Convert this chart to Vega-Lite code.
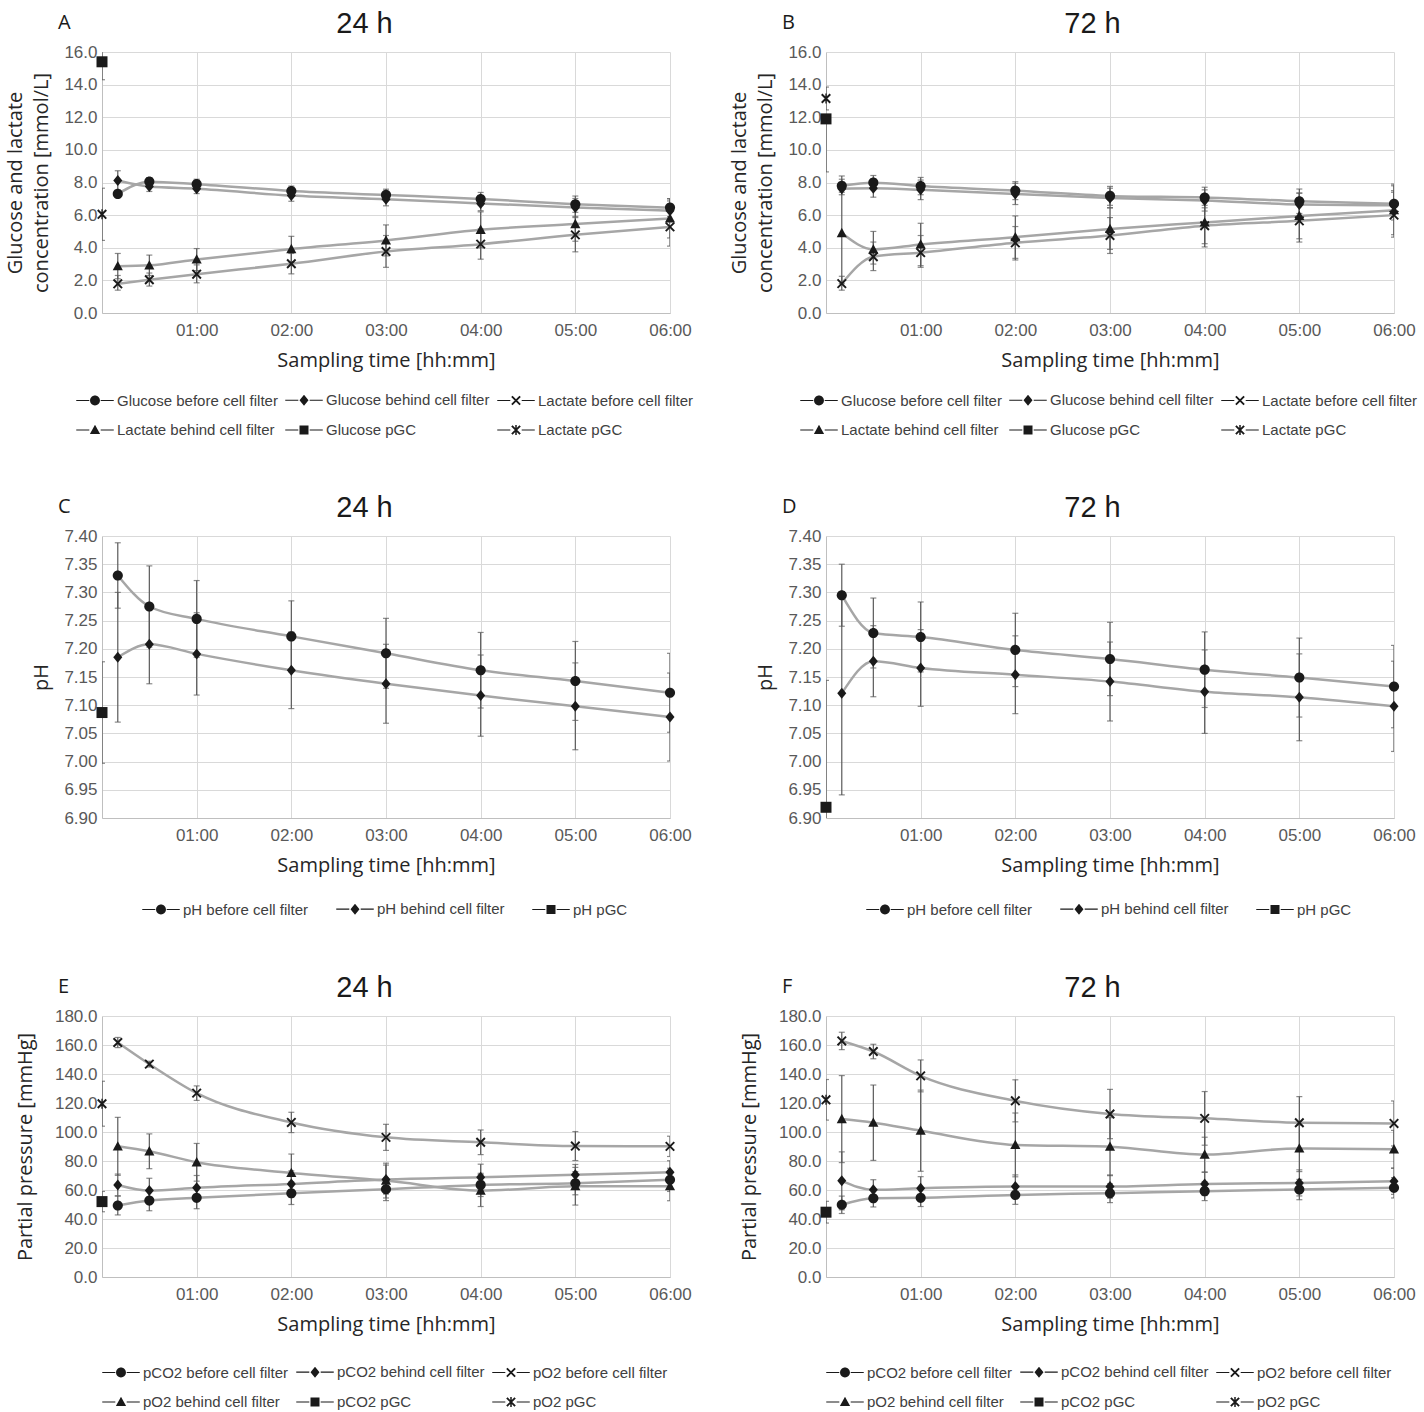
{
"$schema": "https://vega.github.io/schema/vega-lite/v6.json",
"background": "white",
"padding": {"left": 5, "top": 9, "right": 5, "bottom": 0},
"config": {
 "view": {"stroke": null},
 "font": "Liberation Sans",
 "axis": {"labelFont": "Liberation Sans Narrow, Liberation Sans, sans-serif", "labelFontSize": 17, "labelColor": "#595959", "titleFont": "Open Sans", "titleFontSize": 20, "titleFontWeight": "normal", "titleColor": "#262626", "ticks": false, "domainColor": "#bfbfbf", "gridColor": "#d9d9d9"},
 "legend": {"layout": {"bottom": {"anchor": "middle"}}}
},
"datasets": {
 "A": [
  {"s":"Glucose before cell filter","t":0.1667,"v":7.3,"lo":7.1,"hi":7.5},
  {"s":"Glucose before cell filter","t":0.5,"v":8.05,"lo":7.8,"hi":8.3},
  {"s":"Glucose before cell filter","t":1,"v":7.9,"lo":7.6,"hi":8.2},
  {"s":"Glucose before cell filter","t":2,"v":7.48,"lo":7.18,"hi":7.78},
  {"s":"Glucose before cell filter","t":3,"v":7.24,"lo":6.89,"hi":7.59},
  {"s":"Glucose before cell filter","t":4,"v":6.99,"lo":6.59,"hi":7.39},
  {"s":"Glucose before cell filter","t":5,"v":6.67,"lo":6.17,"hi":7.17},
  {"s":"Glucose before cell filter","t":6,"v":6.46,"lo":5.91,"hi":7.01},
  {"s":"Glucose behind cell filter","t":0.1667,"v":8.12,"lo":7.52,"hi":8.72},
  {"s":"Glucose behind cell filter","t":0.5,"v":7.75,"lo":7.45,"hi":8.05},
  {"s":"Glucose behind cell filter","t":1,"v":7.62,"lo":7.32,"hi":7.92},
  {"s":"Glucose behind cell filter","t":2,"v":7.2,"lo":6.85,"hi":7.55},
  {"s":"Glucose behind cell filter","t":3,"v":6.97,"lo":6.57,"hi":7.37},
  {"s":"Glucose behind cell filter","t":4,"v":6.72,"lo":6.27,"hi":7.17},
  {"s":"Glucose behind cell filter","t":5,"v":6.47,"lo":5.92,"hi":7.02},
  {"s":"Glucose behind cell filter","t":6,"v":6.27,"lo":5.67,"hi":6.87},
  {"s":"Lactate before cell filter","t":0.1667,"v":1.79,"lo":1.4,"hi":2.3},
  {"s":"Lactate before cell filter","t":0.5,"v":2.04,"lo":1.65,"hi":2.45},
  {"s":"Lactate before cell filter","t":1,"v":2.38,"lo":1.85,"hi":2.95},
  {"s":"Lactate before cell filter","t":2,"v":3.02,"lo":2.4,"hi":3.65},
  {"s":"Lactate before cell filter","t":3,"v":3.77,"lo":2.8,"hi":4.75},
  {"s":"Lactate before cell filter","t":4,"v":4.22,"lo":3.3,"hi":5.15},
  {"s":"Lactate before cell filter","t":5,"v":4.79,"lo":3.75,"hi":5.85},
  {"s":"Lactate before cell filter","t":6,"v":5.28,"lo":4.1,"hi":6.45},
  {"s":"Lactate behind cell filter","t":0.1667,"v":2.87,"lo":2.1,"hi":3.65},
  {"s":"Lactate behind cell filter","t":0.5,"v":2.92,"lo":2.3,"hi":3.55},
  {"s":"Lactate behind cell filter","t":1,"v":3.28,"lo":2.6,"hi":3.95},
  {"s":"Lactate behind cell filter","t":2,"v":3.92,"lo":3.15,"hi":4.7},
  {"s":"Lactate behind cell filter","t":3,"v":4.45,"lo":3.5,"hi":5.4},
  {"s":"Lactate behind cell filter","t":4,"v":5.1,"lo":4.0,"hi":6.2},
  {"s":"Lactate behind cell filter","t":5,"v":5.45,"lo":4.4,"hi":6.5},
  {"s":"Lactate behind cell filter","t":6,"v":5.8,"lo":4.6,"hi":7.0},
  {"s":"Glucose pGC","t":0,"v":15.4,"lo":14.3,"hi":16.5},
  {"s":"Lactate pGC","t":0,"v":6.05,"lo":4.45,"hi":7.65}
 ],
 "B": [
  {"s":"Glucose before cell filter","t":0.1667,"v":7.8,"lo":7.4,"hi":8.2},
  {"s":"Glucose before cell filter","t":0.5,"v":7.99,"lo":7.55,"hi":8.43},
  {"s":"Glucose before cell filter","t":1,"v":7.78,"lo":7.25,"hi":8.31},
  {"s":"Glucose before cell filter","t":2,"v":7.5,"lo":6.95,"hi":8.05},
  {"s":"Glucose before cell filter","t":3,"v":7.18,"lo":6.6,"hi":7.76},
  {"s":"Glucose before cell filter","t":4,"v":7.08,"lo":6.45,"hi":7.71},
  {"s":"Glucose before cell filter","t":5,"v":6.85,"lo":6.1,"hi":7.6},
  {"s":"Glucose before cell filter","t":6,"v":6.7,"lo":5.9,"hi":7.5},
  {"s":"Glucose behind cell filter","t":0.1667,"v":7.62,"lo":7.25,"hi":8.4},
  {"s":"Glucose behind cell filter","t":0.5,"v":7.65,"lo":7.1,"hi":8.2},
  {"s":"Glucose behind cell filter","t":1,"v":7.55,"lo":6.95,"hi":8.15},
  {"s":"Glucose behind cell filter","t":2,"v":7.3,"lo":6.65,"hi":7.95},
  {"s":"Glucose behind cell filter","t":3,"v":7.05,"lo":6.45,"hi":7.65},
  {"s":"Glucose behind cell filter","t":4,"v":6.9,"lo":6.25,"hi":7.55},
  {"s":"Glucose behind cell filter","t":5,"v":6.65,"lo":5.95,"hi":7.35},
  {"s":"Glucose behind cell filter","t":6,"v":6.6,"lo":5.7,"hi":7.9},
  {"s":"Lactate before cell filter","t":0.1667,"v":1.8,"lo":1.4,"hi":2.25},
  {"s":"Lactate before cell filter","t":0.5,"v":3.45,"lo":2.6,"hi":4.35},
  {"s":"Lactate before cell filter","t":1,"v":3.7,"lo":2.8,"hi":4.75},
  {"s":"Lactate before cell filter","t":2,"v":4.3,"lo":3.25,"hi":5.3},
  {"s":"Lactate before cell filter","t":3,"v":4.75,"lo":3.65,"hi":5.85},
  {"s":"Lactate before cell filter","t":4,"v":5.35,"lo":4.05,"hi":6.6},
  {"s":"Lactate before cell filter","t":5,"v":5.65,"lo":4.35,"hi":6.95},
  {"s":"Lactate before cell filter","t":6,"v":6.0,"lo":4.65,"hi":7.4},
  {"s":"Lactate behind cell filter","t":0.1667,"v":4.9,"lo":1.8,"hi":8.0},
  {"s":"Lactate behind cell filter","t":0.5,"v":3.9,"lo":3.0,"hi":5.0},
  {"s":"Lactate behind cell filter","t":1,"v":4.2,"lo":2.9,"hi":5.5},
  {"s":"Lactate behind cell filter","t":2,"v":4.65,"lo":3.35,"hi":5.95},
  {"s":"Lactate behind cell filter","t":3,"v":5.15,"lo":3.9,"hi":6.45},
  {"s":"Lactate behind cell filter","t":4,"v":5.55,"lo":4.25,"hi":6.85},
  {"s":"Lactate behind cell filter","t":5,"v":5.95,"lo":4.55,"hi":7.35},
  {"s":"Lactate behind cell filter","t":6,"v":6.3,"lo":4.8,"hi":7.8},
  {"s":"Glucose pGC","t":0,"v":11.9,"lo":8.65,"hi":11.9},
  {"s":"Lactate pGC","t":0,"v":13.15,"lo":12.45,"hi":13.85}
 ],
 "C": [
  {"s":"pH before cell filter","t":0.1667,"v":7.330,"lo":7.272,"hi":7.388},
  {"s":"pH before cell filter","t":0.5,"v":7.275,"lo":7.203,"hi":7.347},
  {"s":"pH before cell filter","t":1,"v":7.253,"lo":7.185,"hi":7.321},
  {"s":"pH before cell filter","t":2,"v":7.222,"lo":7.159,"hi":7.285},
  {"s":"pH before cell filter","t":3,"v":7.192,"lo":7.130,"hi":7.254},
  {"s":"pH before cell filter","t":4,"v":7.162,"lo":7.095,"hi":7.229},
  {"s":"pH before cell filter","t":5,"v":7.143,"lo":7.073,"hi":7.213},
  {"s":"pH before cell filter","t":6,"v":7.122,"lo":7.052,"hi":7.192},
  {"s":"pH behind cell filter","t":0.1667,"v":7.185,"lo":7.070,"hi":7.300},
  {"s":"pH behind cell filter","t":0.5,"v":7.208,"lo":7.138,"hi":7.278},
  {"s":"pH behind cell filter","t":1,"v":7.191,"lo":7.118,"hi":7.264},
  {"s":"pH behind cell filter","t":2,"v":7.162,"lo":7.094,"hi":7.230},
  {"s":"pH behind cell filter","t":3,"v":7.138,"lo":7.068,"hi":7.208},
  {"s":"pH behind cell filter","t":4,"v":7.117,"lo":7.045,"hi":7.189},
  {"s":"pH behind cell filter","t":5,"v":7.098,"lo":7.021,"hi":7.175},
  {"s":"pH behind cell filter","t":6,"v":7.079,"lo":7.001,"hi":7.157},
  {"s":"pH pGC","t":0,"v":7.087,"lo":6.997,"hi":7.177}
 ],
 "D": [
  {"s":"pH before cell filter","t":0.1667,"v":7.295,"lo":7.240,"hi":7.350},
  {"s":"pH before cell filter","t":0.5,"v":7.228,"lo":7.166,"hi":7.290},
  {"s":"pH before cell filter","t":1,"v":7.221,"lo":7.159,"hi":7.283},
  {"s":"pH before cell filter","t":2,"v":7.198,"lo":7.133,"hi":7.263},
  {"s":"pH before cell filter","t":3,"v":7.182,"lo":7.117,"hi":7.247},
  {"s":"pH before cell filter","t":4,"v":7.163,"lo":7.096,"hi":7.230},
  {"s":"pH before cell filter","t":5,"v":7.149,"lo":7.079,"hi":7.219},
  {"s":"pH before cell filter","t":6,"v":7.133,"lo":7.060,"hi":7.206},
  {"s":"pH behind cell filter","t":0.1667,"v":7.121,"lo":6.941,"hi":7.301},
  {"s":"pH behind cell filter","t":0.5,"v":7.178,"lo":7.115,"hi":7.241},
  {"s":"pH behind cell filter","t":1,"v":7.166,"lo":7.098,"hi":7.234},
  {"s":"pH behind cell filter","t":2,"v":7.154,"lo":7.085,"hi":7.223},
  {"s":"pH behind cell filter","t":3,"v":7.142,"lo":7.072,"hi":7.212},
  {"s":"pH behind cell filter","t":4,"v":7.124,"lo":7.050,"hi":7.198},
  {"s":"pH behind cell filter","t":5,"v":7.114,"lo":7.037,"hi":7.191},
  {"s":"pH behind cell filter","t":6,"v":7.098,"lo":7.018,"hi":7.178},
  {"s":"pH pGC","t":0,"v":6.919,"lo":6.694,"hi":7.144}
 ],
 "E": [
  {"s":"pCO2 before cell filter","t":0.1667,"v":49.3,"lo":42.8,"hi":55.8},
  {"s":"pCO2 before cell filter","t":0.5,"v":52.7,"lo":45.7,"hi":59.7},
  {"s":"pCO2 before cell filter","t":1,"v":54.6,"lo":47.1,"hi":62.1},
  {"s":"pCO2 before cell filter","t":2,"v":57.8,"lo":50.0,"hi":65.6},
  {"s":"pCO2 before cell filter","t":3,"v":60.5,"lo":52.7,"hi":68.3},
  {"s":"pCO2 before cell filter","t":4,"v":63.5,"lo":55.5,"hi":71.5},
  {"s":"pCO2 before cell filter","t":5,"v":64.7,"lo":56.7,"hi":72.7},
  {"s":"pCO2 before cell filter","t":6,"v":67.0,"lo":59.0,"hi":75.0},
  {"s":"pCO2 behind cell filter","t":0.1667,"v":63.5,"lo":56.0,"hi":71.0},
  {"s":"pCO2 behind cell filter","t":0.5,"v":59.6,"lo":51.1,"hi":68.1},
  {"s":"pCO2 behind cell filter","t":1,"v":61.5,"lo":53.0,"hi":70.0},
  {"s":"pCO2 behind cell filter","t":2,"v":64.2,"lo":55.2,"hi":73.2},
  {"s":"pCO2 behind cell filter","t":3,"v":67.2,"lo":57.2,"hi":77.2},
  {"s":"pCO2 behind cell filter","t":4,"v":68.8,"lo":59.8,"hi":77.8},
  {"s":"pCO2 behind cell filter","t":5,"v":70.6,"lo":63.6,"hi":77.6},
  {"s":"pCO2 behind cell filter","t":6,"v":72.2,"lo":64.2,"hi":80.2},
  {"s":"pO2 before cell filter","t":0.1667,"v":161.7,"lo":158.2,"hi":165.2},
  {"s":"pO2 before cell filter","t":0.5,"v":146.8,"lo":144.8,"hi":148.8},
  {"s":"pO2 before cell filter","t":1,"v":126.8,"lo":121.8,"hi":131.8},
  {"s":"pO2 before cell filter","t":2,"v":106.6,"lo":99.6,"hi":113.6},
  {"s":"pO2 before cell filter","t":3,"v":96.3,"lo":87.3,"hi":105.3},
  {"s":"pO2 before cell filter","t":4,"v":92.9,"lo":84.4,"hi":101.4},
  {"s":"pO2 before cell filter","t":5,"v":90.3,"lo":80.3,"hi":100.3},
  {"s":"pO2 before cell filter","t":6,"v":90.1,"lo":83.1,"hi":97.1},
  {"s":"pO2 behind cell filter","t":0.1667,"v":90.1,"lo":70.1,"hi":110.1},
  {"s":"pO2 behind cell filter","t":0.5,"v":86.7,"lo":74.7,"hi":98.7},
  {"s":"pO2 behind cell filter","t":1,"v":79.1,"lo":66.1,"hi":92.1},
  {"s":"pO2 behind cell filter","t":2,"v":71.8,"lo":58.8,"hi":84.8},
  {"s":"pO2 behind cell filter","t":3,"v":66.5,"lo":54.5,"hi":78.5},
  {"s":"pO2 behind cell filter","t":4,"v":59.6,"lo":48.6,"hi":70.6},
  {"s":"pO2 behind cell filter","t":5,"v":62.6,"lo":49.6,"hi":75.6},
  {"s":"pO2 behind cell filter","t":6,"v":62.6,"lo":52.6,"hi":72.6},
  {"s":"pCO2 pGC","t":0,"v":52.0,"lo":45.0,"hi":59.0},
  {"s":"pO2 pGC","t":0,"v":119.5,"lo":104.0,"hi":135.0}
 ],
 "F": [
  {"s":"pCO2 before cell filter","t":0.1667,"v":49.8,"lo":43.8,"hi":55.8},
  {"s":"pCO2 before cell filter","t":0.5,"v":54.3,"lo":48.3,"hi":60.3},
  {"s":"pCO2 before cell filter","t":1,"v":54.6,"lo":48.6,"hi":60.6},
  {"s":"pCO2 before cell filter","t":2,"v":56.6,"lo":50.1,"hi":63.1},
  {"s":"pCO2 before cell filter","t":3,"v":57.8,"lo":51.3,"hi":64.3},
  {"s":"pCO2 before cell filter","t":4,"v":59.2,"lo":52.7,"hi":65.7},
  {"s":"pCO2 before cell filter","t":5,"v":60.3,"lo":53.3,"hi":67.3},
  {"s":"pCO2 before cell filter","t":6,"v":61.5,"lo":54.5,"hi":68.5},
  {"s":"pCO2 behind cell filter","t":0.1667,"v":66.3,"lo":46.3,"hi":86.3},
  {"s":"pCO2 behind cell filter","t":0.5,"v":60.1,"lo":53.1,"hi":67.1},
  {"s":"pCO2 behind cell filter","t":1,"v":61.2,"lo":53.2,"hi":69.2},
  {"s":"pCO2 behind cell filter","t":2,"v":62.4,"lo":54.4,"hi":70.4},
  {"s":"pCO2 behind cell filter","t":3,"v":62.4,"lo":54.4,"hi":70.4},
  {"s":"pCO2 behind cell filter","t":4,"v":64.2,"lo":56.2,"hi":72.2},
  {"s":"pCO2 behind cell filter","t":5,"v":64.9,"lo":55.9,"hi":73.9},
  {"s":"pCO2 behind cell filter","t":6,"v":66.0,"lo":57.0,"hi":75.0},
  {"s":"pO2 before cell filter","t":0.1667,"v":162.8,"lo":156.8,"hi":168.8},
  {"s":"pO2 before cell filter","t":0.5,"v":155.5,"lo":150.5,"hi":160.5},
  {"s":"pO2 before cell filter","t":1,"v":138.7,"lo":127.7,"hi":149.7},
  {"s":"pO2 before cell filter","t":2,"v":121.5,"lo":107.0,"hi":136.0},
  {"s":"pO2 before cell filter","t":3,"v":112.4,"lo":95.4,"hi":129.4},
  {"s":"pO2 before cell filter","t":4,"v":109.4,"lo":90.9,"hi":127.9},
  {"s":"pO2 before cell filter","t":5,"v":106.4,"lo":88.4,"hi":124.4},
  {"s":"pO2 before cell filter","t":6,"v":105.9,"lo":90.4,"hi":121.4},
  {"s":"pO2 behind cell filter","t":0.1667,"v":108.9,"lo":78.9,"hi":138.9},
  {"s":"pO2 behind cell filter","t":0.5,"v":106.4,"lo":80.4,"hi":132.4},
  {"s":"pO2 behind cell filter","t":1,"v":100.9,"lo":72.9,"hi":128.9},
  {"s":"pO2 behind cell filter","t":2,"v":91.1,"lo":69.1,"hi":113.1},
  {"s":"pO2 behind cell filter","t":3,"v":89.9,"lo":69.9,"hi":109.9},
  {"s":"pO2 behind cell filter","t":4,"v":84.4,"lo":72.4,"hi":96.4},
  {"s":"pO2 behind cell filter","t":5,"v":88.7,"lo":72.7,"hi":104.7},
  {"s":"pO2 behind cell filter","t":6,"v":88.1,"lo":75.1,"hi":101.1},
  {"s":"pCO2 pGC","t":0,"v":44.7,"lo":37.2,"hi":52.2},
  {"s":"pO2 pGC","t":0,"v":122.2,"lo":108.2,"hi":136.2}
 ]
},
"columns": 2,
"spacing": {"row": 55, "column": 35},
"resolve": {"scale": {"shape": "independent"}},
"concat": [
 {
  "data": {"name": "A"}, "width": 568, "height": 261,
  "title": {"text": "A", "anchor": "start", "frame": "group", "dx": -44, "dy": 28, "fontSize": 20, "font": "Open Sans", "fontWeight": "normal", "color": "#1a1a1a"},
  "layer": [
   {"transform": [{"filter": "datum.t > 0"}],
    "mark": {"type": "line", "color": "#a6a6a6", "strokeWidth": 2.5, "interpolate": "monotone"},
    "encoding": {
     "x": {"field": "t", "type": "quantitative", "scale": {"domain": [0, 6], "nice": false}, "axis": {"orient": "bottom", "values": [1,2,3,4,5,6], "labelExpr": "'0' + datum.value + ':00'", "title": "Sampling time [hh:mm]", "titlePadding": 12, "labelPadding": 9, "labelFlush": false, "grid": true}},
     "y": {"field": "v", "type": "quantitative", "scale": {"domain": [0, 16], "nice": false}, "axis": {"values": [0,2,4,6,8,10,12,14,16], "format": ".1f", "title": ["Glucose and lactate", "concentration [mmol/L]"], "titleLineHeight": 26, "titlePadding": 12, "labelPadding": 5, "grid": true}},
     "detail": {"field": "s", "type": "nominal"}}},
   {"mark": {"type": "rule", "color": "#595959", "strokeWidth": 1.2, "clip": true},
    "encoding": {"x": {"field": "t", "type": "quantitative", "scale": {"domain": [0, 6], "nice": false}, "axis": null}, "y": {"field": "lo", "type": "quantitative", "scale": {"domain": [0, 16], "nice": false}, "axis": null}, "y2": {"field": "hi"}}},
   {"mark": {"type": "tick", "orient": "horizontal", "color": "#595959", "size": 6, "thickness": 1.2, "clip": true},
    "encoding": {"x": {"field": "t", "type": "quantitative", "scale": {"domain": [0, 6], "nice": false}, "axis": null}, "y": {"field": "lo", "type": "quantitative", "scale": {"domain": [0, 16], "nice": false}, "axis": null}}},
   {"mark": {"type": "tick", "orient": "horizontal", "color": "#595959", "size": 6, "thickness": 1.2, "clip": true},
    "encoding": {"x": {"field": "t", "type": "quantitative", "scale": {"domain": [0, 6], "nice": false}, "axis": null}, "y": {"field": "hi", "type": "quantitative", "scale": {"domain": [0, 16], "nice": false}, "axis": null}}},
   {"mark": {"type": "point", "filled": true, "color": "#1a1a1a", "size": 121, "opacity": 1},
    "encoding": {"x": {"field": "t", "type": "quantitative", "scale": {"domain": [0, 6], "nice": false}, "axis": null}, "y": {"field": "v", "type": "quantitative", "scale": {"domain": [0, 16], "nice": false}, "axis": null},
     "shape": {"field": "s", "type": "nominal", "legend": null, "scale": {"domain": ["Glucose before cell filter", "Glucose behind cell filter", "Lactate before cell filter", "Lactate behind cell filter", "Glucose pGC", "Lactate pGC"], "range": ["M0.92,0A0.92,0.92,0,1,1,-0.92,0A0.92,0.92,0,1,1,0.92,0Z", "M0,-1L0.82,0L0,1L-0.82,0Z", "M-0.65,-0.9L0.9,0.65L0.65,0.9L-0.9,-0.65ZM0.9,-0.65L-0.65,0.9L-0.9,0.65L0.65,-0.9Z", "M0,-0.95L0.92,0.75L-0.92,0.75Z", "M-1,-1L1,-1L1,1L-1,1Z", "M-0.65,-0.9L0.9,0.65L0.65,0.9L-0.9,-0.65ZM0.9,-0.65L-0.65,0.9L-0.9,0.65L0.65,-0.9ZM-0.12,-0.9L0.12,-0.9L0.12,0.9L-0.12,0.9Z"]}}}},
   {"mark": {"type": "point", "filled": true, "color": "#1a1a1a", "clip": true},
    "encoding": {"x": {"field": "t", "type": "quantitative", "scale": {"domain": [0, 6], "nice": false}, "axis": {"orient": "top", "title": "24 h", "titleFont": "Liberation Sans Narrow, Liberation Sans, sans-serif", "titleFontSize": 29, "titleColor": "#1a1a1a", "titlePadding": 14, "titleX": 262, "labels": false, "ticks": false, "domain": false, "grid": false}},
     "y": {"datum": -1000, "type": "quantitative", "scale": {"domain": [0, 16], "nice": false}, "axis": null},
     "shape": {"field": "s", "type": "nominal", "scale": {"domain": ["Glucose before cell filter", "Glucose behind cell filter", "Lactate before cell filter", "Lactate behind cell filter", "Glucose pGC", "Lactate pGC"], "range": ["M-1.25,-0.04L-0.38,-0.04L-0.38,0.04L-1.25,0.04ZM0.38,-0.04L1.25,-0.04L1.25,0.04L0.38,0.04ZM0.33,0A0.33,0.33,0,1,1,-0.33,0A0.33,0.33,0,1,1,0.33,0Z", "M-1.25,-0.04L-0.38,-0.04L-0.38,0.04L-1.25,0.04ZM0.38,-0.04L1.25,-0.04L1.25,0.04L0.38,0.04ZM0,-0.37L0.3,0L0,0.37L-0.3,0Z", "M-1.25,-0.04L-0.38,-0.04L-0.38,0.04L-1.25,0.04ZM0.38,-0.04L1.25,-0.04L1.25,0.04L0.38,0.04ZM-0.23,-0.32L0.32,0.23L0.23,0.32L-0.32,-0.23ZM0.32,-0.23L-0.23,0.32L-0.32,0.23L0.23,-0.32Z", "M-1.25,-0.04L-0.38,-0.04L-0.38,0.04L-1.25,0.04ZM0.38,-0.04L1.25,-0.04L1.25,0.04L0.38,0.04ZM0,-0.35L0.34,0.26L-0.34,0.26Z", "M-1.25,-0.04L-0.38,-0.04L-0.38,0.04L-1.25,0.04ZM0.38,-0.04L1.25,-0.04L1.25,0.04L0.38,0.04ZM-0.3,-0.3L0.3,-0.3L0.3,0.3L-0.3,0.3Z", "M-1.25,-0.04L-0.38,-0.04L-0.38,0.04L-1.25,0.04ZM0.38,-0.04L1.25,-0.04L1.25,0.04L0.38,0.04ZM-0.23,-0.32L0.32,0.23L0.23,0.32L-0.32,-0.23ZM0.32,-0.23L-0.23,0.32L-0.32,0.23L0.23,-0.32ZM-0.05,-0.33L0.05,-0.33L0.05,0.33L-0.05,0.33Z"]},
      "legend": {"orient": "bottom", "direction": "horizontal", "columns": 3, "title": null, "labelFont": "Liberation Sans", "labelFontSize": 15, "labelColor": "#404040", "symbolSize": 900, "symbolOpacity": 1, "labelOffset": 6, "columnPadding": 4, "rowPadding": 5, "offset": 14, "labelLimit": 300}}}}
  ],
  "resolve": {"scale": {"shape": "independent"}, "axis": {"x": "independent", "y": "independent"}}
 },
 {
  "data": {"name": "B"}, "width": 568, "height": 261,
  "title": {"text": "B", "anchor": "start", "frame": "group", "dx": -44, "dy": 28, "fontSize": 20, "font": "Open Sans", "fontWeight": "normal", "color": "#1a1a1a"},
  "layer": [
   {"transform": [{"filter": "datum.t > 0"}],
    "mark": {"type": "line", "color": "#a6a6a6", "strokeWidth": 2.5, "interpolate": "monotone"},
    "encoding": {
     "x": {"field": "t", "type": "quantitative", "scale": {"domain": [0, 6], "nice": false}, "axis": {"orient": "bottom", "values": [1,2,3,4,5,6], "labelExpr": "'0' + datum.value + ':00'", "title": "Sampling time [hh:mm]", "titlePadding": 12, "labelPadding": 9, "labelFlush": false, "grid": true}},
     "y": {"field": "v", "type": "quantitative", "scale": {"domain": [0, 16], "nice": false}, "axis": {"values": [0,2,4,6,8,10,12,14,16], "format": ".1f", "title": ["Glucose and lactate", "concentration [mmol/L]"], "titleLineHeight": 26, "titlePadding": 12, "labelPadding": 5, "grid": true}},
     "detail": {"field": "s", "type": "nominal"}}},
   {"mark": {"type": "rule", "color": "#595959", "strokeWidth": 1.2, "clip": true},
    "encoding": {"x": {"field": "t", "type": "quantitative", "scale": {"domain": [0, 6], "nice": false}, "axis": null}, "y": {"field": "lo", "type": "quantitative", "scale": {"domain": [0, 16], "nice": false}, "axis": null}, "y2": {"field": "hi"}}},
   {"mark": {"type": "tick", "orient": "horizontal", "color": "#595959", "size": 6, "thickness": 1.2, "clip": true},
    "encoding": {"x": {"field": "t", "type": "quantitative", "scale": {"domain": [0, 6], "nice": false}, "axis": null}, "y": {"field": "lo", "type": "quantitative", "scale": {"domain": [0, 16], "nice": false}, "axis": null}}},
   {"mark": {"type": "tick", "orient": "horizontal", "color": "#595959", "size": 6, "thickness": 1.2, "clip": true},
    "encoding": {"x": {"field": "t", "type": "quantitative", "scale": {"domain": [0, 6], "nice": false}, "axis": null}, "y": {"field": "hi", "type": "quantitative", "scale": {"domain": [0, 16], "nice": false}, "axis": null}}},
   {"mark": {"type": "point", "filled": true, "color": "#1a1a1a", "size": 121, "opacity": 1},
    "encoding": {"x": {"field": "t", "type": "quantitative", "scale": {"domain": [0, 6], "nice": false}, "axis": null}, "y": {"field": "v", "type": "quantitative", "scale": {"domain": [0, 16], "nice": false}, "axis": null},
     "shape": {"field": "s", "type": "nominal", "legend": null, "scale": {"domain": ["Glucose before cell filter", "Glucose behind cell filter", "Lactate before cell filter", "Lactate behind cell filter", "Glucose pGC", "Lactate pGC"], "range": ["M0.92,0A0.92,0.92,0,1,1,-0.92,0A0.92,0.92,0,1,1,0.92,0Z", "M0,-1L0.82,0L0,1L-0.82,0Z", "M-0.65,-0.9L0.9,0.65L0.65,0.9L-0.9,-0.65ZM0.9,-0.65L-0.65,0.9L-0.9,0.65L0.65,-0.9Z", "M0,-0.95L0.92,0.75L-0.92,0.75Z", "M-1,-1L1,-1L1,1L-1,1Z", "M-0.65,-0.9L0.9,0.65L0.65,0.9L-0.9,-0.65ZM0.9,-0.65L-0.65,0.9L-0.9,0.65L0.65,-0.9ZM-0.12,-0.9L0.12,-0.9L0.12,0.9L-0.12,0.9Z"]}}}},
   {"mark": {"type": "point", "filled": true, "color": "#1a1a1a", "clip": true},
    "encoding": {"x": {"field": "t", "type": "quantitative", "scale": {"domain": [0, 6], "nice": false}, "axis": {"orient": "top", "title": "72 h", "titleFont": "Liberation Sans Narrow, Liberation Sans, sans-serif", "titleFontSize": 29, "titleColor": "#1a1a1a", "titlePadding": 14, "titleX": 266, "labels": false, "ticks": false, "domain": false, "grid": false}},
     "y": {"datum": -1000, "type": "quantitative", "scale": {"domain": [0, 16], "nice": false}, "axis": null},
     "shape": {"field": "s", "type": "nominal", "scale": {"domain": ["Glucose before cell filter", "Glucose behind cell filter", "Lactate before cell filter", "Lactate behind cell filter", "Glucose pGC", "Lactate pGC"], "range": ["M-1.25,-0.04L-0.38,-0.04L-0.38,0.04L-1.25,0.04ZM0.38,-0.04L1.25,-0.04L1.25,0.04L0.38,0.04ZM0.33,0A0.33,0.33,0,1,1,-0.33,0A0.33,0.33,0,1,1,0.33,0Z", "M-1.25,-0.04L-0.38,-0.04L-0.38,0.04L-1.25,0.04ZM0.38,-0.04L1.25,-0.04L1.25,0.04L0.38,0.04ZM0,-0.37L0.3,0L0,0.37L-0.3,0Z", "M-1.25,-0.04L-0.38,-0.04L-0.38,0.04L-1.25,0.04ZM0.38,-0.04L1.25,-0.04L1.25,0.04L0.38,0.04ZM-0.23,-0.32L0.32,0.23L0.23,0.32L-0.32,-0.23ZM0.32,-0.23L-0.23,0.32L-0.32,0.23L0.23,-0.32Z", "M-1.25,-0.04L-0.38,-0.04L-0.38,0.04L-1.25,0.04ZM0.38,-0.04L1.25,-0.04L1.25,0.04L0.38,0.04ZM0,-0.35L0.34,0.26L-0.34,0.26Z", "M-1.25,-0.04L-0.38,-0.04L-0.38,0.04L-1.25,0.04ZM0.38,-0.04L1.25,-0.04L1.25,0.04L0.38,0.04ZM-0.3,-0.3L0.3,-0.3L0.3,0.3L-0.3,0.3Z", "M-1.25,-0.04L-0.38,-0.04L-0.38,0.04L-1.25,0.04ZM0.38,-0.04L1.25,-0.04L1.25,0.04L0.38,0.04ZM-0.23,-0.32L0.32,0.23L0.23,0.32L-0.32,-0.23ZM0.32,-0.23L-0.23,0.32L-0.32,0.23L0.23,-0.32ZM-0.05,-0.33L0.05,-0.33L0.05,0.33L-0.05,0.33Z"]},
      "legend": {"orient": "bottom", "direction": "horizontal", "columns": 3, "title": null, "labelFont": "Liberation Sans", "labelFontSize": 15, "labelColor": "#404040", "symbolSize": 900, "symbolOpacity": 1, "labelOffset": 6, "columnPadding": 4, "rowPadding": 5, "offset": 14, "labelLimit": 300}}}}
  ],
  "resolve": {"scale": {"shape": "independent"}, "axis": {"x": "independent", "y": "independent"}}
 },
 {
  "data": {"name": "C"}, "width": 568, "height": 282,
  "title": {"text": "C", "anchor": "start", "frame": "group", "dx": -44, "dy": 28, "fontSize": 20, "font": "Open Sans", "fontWeight": "normal", "color": "#1a1a1a"},
  "layer": [
   {"transform": [{"filter": "datum.t > 0"}],
    "mark": {"type": "line", "color": "#a6a6a6", "strokeWidth": 2.5, "interpolate": "monotone"},
    "encoding": {
     "x": {"field": "t", "type": "quantitative", "scale": {"domain": [0, 6], "nice": false}, "axis": {"orient": "bottom", "values": [1,2,3,4,5,6], "labelExpr": "'0' + datum.value + ':00'", "title": "Sampling time [hh:mm]", "titlePadding": 12, "labelPadding": 9, "labelFlush": false, "grid": true}},
     "y": {"field": "v", "type": "quantitative", "scale": {"domain": [6.9, 7.4], "nice": false, "zero": false}, "axis": {"values": [6.9,6.95,7.0,7.05,7.1,7.15,7.2,7.25,7.3,7.35,7.4], "format": ".2f", "title": "pH", "titlePadding": 12, "labelPadding": 5, "grid": true}},
     "detail": {"field": "s", "type": "nominal"}}},
   {"mark": {"type": "rule", "color": "#595959", "strokeWidth": 1.2, "clip": true},
    "encoding": {"x": {"field": "t", "type": "quantitative", "scale": {"domain": [0, 6], "nice": false}, "axis": null}, "y": {"field": "lo", "type": "quantitative", "scale": {"domain": [6.9, 7.4], "nice": false, "zero": false}, "axis": null}, "y2": {"field": "hi"}}},
   {"mark": {"type": "tick", "orient": "horizontal", "color": "#595959", "size": 6, "thickness": 1.2, "clip": true},
    "encoding": {"x": {"field": "t", "type": "quantitative", "scale": {"domain": [0, 6], "nice": false}, "axis": null}, "y": {"field": "lo", "type": "quantitative", "scale": {"domain": [6.9, 7.4], "nice": false, "zero": false}, "axis": null}}},
   {"mark": {"type": "tick", "orient": "horizontal", "color": "#595959", "size": 6, "thickness": 1.2, "clip": true},
    "encoding": {"x": {"field": "t", "type": "quantitative", "scale": {"domain": [0, 6], "nice": false}, "axis": null}, "y": {"field": "hi", "type": "quantitative", "scale": {"domain": [6.9, 7.4], "nice": false, "zero": false}, "axis": null}}},
   {"mark": {"type": "point", "filled": true, "color": "#1a1a1a", "size": 121, "opacity": 1},
    "encoding": {"x": {"field": "t", "type": "quantitative", "scale": {"domain": [0, 6], "nice": false}, "axis": null}, "y": {"field": "v", "type": "quantitative", "scale": {"domain": [6.9, 7.4], "nice": false, "zero": false}, "axis": null},
     "shape": {"field": "s", "type": "nominal", "legend": null, "scale": {"domain": ["pH before cell filter", "pH behind cell filter", "pH pGC"], "range": ["M0.92,0A0.92,0.92,0,1,1,-0.92,0A0.92,0.92,0,1,1,0.92,0Z", "M0,-1L0.82,0L0,1L-0.82,0Z", "M-1,-1L1,-1L1,1L-1,1Z"]}}}},
   {"mark": {"type": "point", "filled": true, "color": "#1a1a1a", "clip": true},
    "encoding": {"x": {"field": "t", "type": "quantitative", "scale": {"domain": [0, 6], "nice": false}, "axis": {"orient": "top", "title": "24 h", "titleFont": "Liberation Sans Narrow, Liberation Sans, sans-serif", "titleFontSize": 29, "titleColor": "#1a1a1a", "titlePadding": 14, "titleX": 262, "labels": false, "ticks": false, "domain": false, "grid": false}},
     "y": {"datum": -1000, "type": "quantitative", "scale": {"domain": [6.9, 7.4], "nice": false, "zero": false}, "axis": null},
     "shape": {"field": "s", "type": "nominal", "scale": {"domain": ["pH before cell filter", "pH behind cell filter", "pH pGC"], "range": ["M-1.25,-0.04L-0.38,-0.04L-0.38,0.04L-1.25,0.04ZM0.38,-0.04L1.25,-0.04L1.25,0.04L0.38,0.04ZM0.33,0A0.33,0.33,0,1,1,-0.33,0A0.33,0.33,0,1,1,0.33,0Z", "M-1.25,-0.04L-0.38,-0.04L-0.38,0.04L-1.25,0.04ZM0.38,-0.04L1.25,-0.04L1.25,0.04L0.38,0.04ZM0,-0.37L0.3,0L0,0.37L-0.3,0Z", "M-1.25,-0.04L-0.38,-0.04L-0.38,0.04L-1.25,0.04ZM0.38,-0.04L1.25,-0.04L1.25,0.04L0.38,0.04ZM-0.3,-0.3L0.3,-0.3L0.3,0.3L-0.3,0.3Z"]},
      "legend": {"orient": "bottom", "direction": "horizontal", "columns": 3, "title": null, "labelFont": "Liberation Sans", "labelFontSize": 15, "labelColor": "#404040", "symbolSize": 900, "symbolOpacity": 1, "labelOffset": 6, "columnPadding": 24, "rowPadding": 5, "offset": 18, "labelLimit": 300}}}}
  ],
  "resolve": {"scale": {"shape": "independent"}, "axis": {"x": "independent", "y": "independent"}}
 },
 {
  "data": {"name": "D"}, "width": 568, "height": 282,
  "title": {"text": "D", "anchor": "start", "frame": "group", "dx": -44, "dy": 28, "fontSize": 20, "font": "Open Sans", "fontWeight": "normal", "color": "#1a1a1a"},
  "layer": [
   {"transform": [{"filter": "datum.t > 0"}],
    "mark": {"type": "line", "color": "#a6a6a6", "strokeWidth": 2.5, "interpolate": "monotone"},
    "encoding": {
     "x": {"field": "t", "type": "quantitative", "scale": {"domain": [0, 6], "nice": false}, "axis": {"orient": "bottom", "values": [1,2,3,4,5,6], "labelExpr": "'0' + datum.value + ':00'", "title": "Sampling time [hh:mm]", "titlePadding": 12, "labelPadding": 9, "labelFlush": false, "grid": true}},
     "y": {"field": "v", "type": "quantitative", "scale": {"domain": [6.9, 7.4], "nice": false, "zero": false}, "axis": {"values": [6.9,6.95,7.0,7.05,7.1,7.15,7.2,7.25,7.3,7.35,7.4], "format": ".2f", "title": "pH", "titlePadding": 12, "labelPadding": 5, "grid": true}},
     "detail": {"field": "s", "type": "nominal"}}},
   {"mark": {"type": "rule", "color": "#595959", "strokeWidth": 1.2, "clip": true},
    "encoding": {"x": {"field": "t", "type": "quantitative", "scale": {"domain": [0, 6], "nice": false}, "axis": null}, "y": {"field": "lo", "type": "quantitative", "scale": {"domain": [6.9, 7.4], "nice": false, "zero": false}, "axis": null}, "y2": {"field": "hi"}}},
   {"mark": {"type": "tick", "orient": "horizontal", "color": "#595959", "size": 6, "thickness": 1.2, "clip": true},
    "encoding": {"x": {"field": "t", "type": "quantitative", "scale": {"domain": [0, 6], "nice": false}, "axis": null}, "y": {"field": "lo", "type": "quantitative", "scale": {"domain": [6.9, 7.4], "nice": false, "zero": false}, "axis": null}}},
   {"mark": {"type": "tick", "orient": "horizontal", "color": "#595959", "size": 6, "thickness": 1.2, "clip": true},
    "encoding": {"x": {"field": "t", "type": "quantitative", "scale": {"domain": [0, 6], "nice": false}, "axis": null}, "y": {"field": "hi", "type": "quantitative", "scale": {"domain": [6.9, 7.4], "nice": false, "zero": false}, "axis": null}}},
   {"mark": {"type": "point", "filled": true, "color": "#1a1a1a", "size": 121, "opacity": 1},
    "encoding": {"x": {"field": "t", "type": "quantitative", "scale": {"domain": [0, 6], "nice": false}, "axis": null}, "y": {"field": "v", "type": "quantitative", "scale": {"domain": [6.9, 7.4], "nice": false, "zero": false}, "axis": null},
     "shape": {"field": "s", "type": "nominal", "legend": null, "scale": {"domain": ["pH before cell filter", "pH behind cell filter", "pH pGC"], "range": ["M0.92,0A0.92,0.92,0,1,1,-0.92,0A0.92,0.92,0,1,1,0.92,0Z", "M0,-1L0.82,0L0,1L-0.82,0Z", "M-1,-1L1,-1L1,1L-1,1Z"]}}}},
   {"mark": {"type": "point", "filled": true, "color": "#1a1a1a", "clip": true},
    "encoding": {"x": {"field": "t", "type": "quantitative", "scale": {"domain": [0, 6], "nice": false}, "axis": {"orient": "top", "title": "72 h", "titleFont": "Liberation Sans Narrow, Liberation Sans, sans-serif", "titleFontSize": 29, "titleColor": "#1a1a1a", "titlePadding": 14, "titleX": 266, "labels": false, "ticks": false, "domain": false, "grid": false}},
     "y": {"datum": -1000, "type": "quantitative", "scale": {"domain": [6.9, 7.4], "nice": false, "zero": false}, "axis": null},
     "shape": {"field": "s", "type": "nominal", "scale": {"domain": ["pH before cell filter", "pH behind cell filter", "pH pGC"], "range": ["M-1.25,-0.04L-0.38,-0.04L-0.38,0.04L-1.25,0.04ZM0.38,-0.04L1.25,-0.04L1.25,0.04L0.38,0.04ZM0.33,0A0.33,0.33,0,1,1,-0.33,0A0.33,0.33,0,1,1,0.33,0Z", "M-1.25,-0.04L-0.38,-0.04L-0.38,0.04L-1.25,0.04ZM0.38,-0.04L1.25,-0.04L1.25,0.04L0.38,0.04ZM0,-0.37L0.3,0L0,0.37L-0.3,0Z", "M-1.25,-0.04L-0.38,-0.04L-0.38,0.04L-1.25,0.04ZM0.38,-0.04L1.25,-0.04L1.25,0.04L0.38,0.04ZM-0.3,-0.3L0.3,-0.3L0.3,0.3L-0.3,0.3Z"]},
      "legend": {"orient": "bottom", "direction": "horizontal", "columns": 3, "title": null, "labelFont": "Liberation Sans", "labelFontSize": 15, "labelColor": "#404040", "symbolSize": 900, "symbolOpacity": 1, "labelOffset": 6, "columnPadding": 24, "rowPadding": 5, "offset": 18, "labelLimit": 300}}}}
  ],
  "resolve": {"scale": {"shape": "independent"}, "axis": {"x": "independent", "y": "independent"}}
 },
 {
  "data": {"name": "E"}, "width": 568, "height": 261,
  "title": {"text": "E", "anchor": "start", "frame": "group", "dx": -44, "dy": 28, "fontSize": 20, "font": "Open Sans", "fontWeight": "normal", "color": "#1a1a1a"},
  "layer": [
   {"transform": [{"filter": "datum.t > 0"}],
    "mark": {"type": "line", "color": "#a6a6a6", "strokeWidth": 2.5, "interpolate": "monotone"},
    "encoding": {
     "x": {"field": "t", "type": "quantitative", "scale": {"domain": [0, 6], "nice": false}, "axis": {"orient": "bottom", "values": [1,2,3,4,5,6], "labelExpr": "'0' + datum.value + ':00'", "title": "Sampling time [hh:mm]", "titlePadding": 12, "labelPadding": 9, "labelFlush": false, "grid": true}},
     "y": {"field": "v", "type": "quantitative", "scale": {"domain": [0, 180], "nice": false}, "axis": {"values": [0,20,40,60,80,100,120,140,160,180], "format": ".1f", "title": "Partial pressure [mmHg]", "titlePadding": 19, "labelPadding": 5, "grid": true}},
     "detail": {"field": "s", "type": "nominal"}}},
   {"mark": {"type": "rule", "color": "#595959", "strokeWidth": 1.2, "clip": true},
    "encoding": {"x": {"field": "t", "type": "quantitative", "scale": {"domain": [0, 6], "nice": false}, "axis": null}, "y": {"field": "lo", "type": "quantitative", "scale": {"domain": [0, 180], "nice": false}, "axis": null}, "y2": {"field": "hi"}}},
   {"mark": {"type": "tick", "orient": "horizontal", "color": "#595959", "size": 6, "thickness": 1.2, "clip": true},
    "encoding": {"x": {"field": "t", "type": "quantitative", "scale": {"domain": [0, 6], "nice": false}, "axis": null}, "y": {"field": "lo", "type": "quantitative", "scale": {"domain": [0, 180], "nice": false}, "axis": null}}},
   {"mark": {"type": "tick", "orient": "horizontal", "color": "#595959", "size": 6, "thickness": 1.2, "clip": true},
    "encoding": {"x": {"field": "t", "type": "quantitative", "scale": {"domain": [0, 6], "nice": false}, "axis": null}, "y": {"field": "hi", "type": "quantitative", "scale": {"domain": [0, 180], "nice": false}, "axis": null}}},
   {"mark": {"type": "point", "filled": true, "color": "#1a1a1a", "size": 121, "opacity": 1},
    "encoding": {"x": {"field": "t", "type": "quantitative", "scale": {"domain": [0, 6], "nice": false}, "axis": null}, "y": {"field": "v", "type": "quantitative", "scale": {"domain": [0, 180], "nice": false}, "axis": null},
     "shape": {"field": "s", "type": "nominal", "legend": null, "scale": {"domain": ["pCO2 before cell filter", "pCO2 behind cell filter", "pO2 before cell filter", "pO2 behind cell filter", "pCO2 pGC", "pO2 pGC"], "range": ["M0.92,0A0.92,0.92,0,1,1,-0.92,0A0.92,0.92,0,1,1,0.92,0Z", "M0,-1L0.82,0L0,1L-0.82,0Z", "M-0.65,-0.9L0.9,0.65L0.65,0.9L-0.9,-0.65ZM0.9,-0.65L-0.65,0.9L-0.9,0.65L0.65,-0.9Z", "M0,-0.95L0.92,0.75L-0.92,0.75Z", "M-1,-1L1,-1L1,1L-1,1Z", "M-0.65,-0.9L0.9,0.65L0.65,0.9L-0.9,-0.65ZM0.9,-0.65L-0.65,0.9L-0.9,0.65L0.65,-0.9ZM-0.12,-0.9L0.12,-0.9L0.12,0.9L-0.12,0.9Z"]}}}},
   {"mark": {"type": "point", "filled": true, "color": "#1a1a1a", "clip": true},
    "encoding": {"x": {"field": "t", "type": "quantitative", "scale": {"domain": [0, 6], "nice": false}, "axis": {"orient": "top", "title": "24 h", "titleFont": "Liberation Sans Narrow, Liberation Sans, sans-serif", "titleFontSize": 29, "titleColor": "#1a1a1a", "titlePadding": 14, "titleX": 262, "labels": false, "ticks": false, "domain": false, "grid": false}},
     "y": {"datum": -1000, "type": "quantitative", "scale": {"domain": [0, 180], "nice": false}, "axis": null},
     "shape": {"field": "s", "type": "nominal", "scale": {"domain": ["pCO2 before cell filter", "pCO2 behind cell filter", "pO2 before cell filter", "pO2 behind cell filter", "pCO2 pGC", "pO2 pGC"], "range": ["M-1.25,-0.04L-0.38,-0.04L-0.38,0.04L-1.25,0.04ZM0.38,-0.04L1.25,-0.04L1.25,0.04L0.38,0.04ZM0.33,0A0.33,0.33,0,1,1,-0.33,0A0.33,0.33,0,1,1,0.33,0Z", "M-1.25,-0.04L-0.38,-0.04L-0.38,0.04L-1.25,0.04ZM0.38,-0.04L1.25,-0.04L1.25,0.04L0.38,0.04ZM0,-0.37L0.3,0L0,0.37L-0.3,0Z", "M-1.25,-0.04L-0.38,-0.04L-0.38,0.04L-1.25,0.04ZM0.38,-0.04L1.25,-0.04L1.25,0.04L0.38,0.04ZM-0.23,-0.32L0.32,0.23L0.23,0.32L-0.32,-0.23ZM0.32,-0.23L-0.23,0.32L-0.32,0.23L0.23,-0.32Z", "M-1.25,-0.04L-0.38,-0.04L-0.38,0.04L-1.25,0.04ZM0.38,-0.04L1.25,-0.04L1.25,0.04L0.38,0.04ZM0,-0.35L0.34,0.26L-0.34,0.26Z", "M-1.25,-0.04L-0.38,-0.04L-0.38,0.04L-1.25,0.04ZM0.38,-0.04L1.25,-0.04L1.25,0.04L0.38,0.04ZM-0.3,-0.3L0.3,-0.3L0.3,0.3L-0.3,0.3Z", "M-1.25,-0.04L-0.38,-0.04L-0.38,0.04L-1.25,0.04ZM0.38,-0.04L1.25,-0.04L1.25,0.04L0.38,0.04ZM-0.23,-0.32L0.32,0.23L0.23,0.32L-0.32,-0.23ZM0.32,-0.23L-0.23,0.32L-0.32,0.23L0.23,-0.32ZM-0.05,-0.33L0.05,-0.33L0.05,0.33L-0.05,0.33Z"]},
      "legend": {"orient": "bottom", "direction": "horizontal", "columns": 3, "title": null, "labelFont": "Liberation Sans", "labelFontSize": 15, "labelColor": "#404040", "symbolSize": 900, "symbolOpacity": 1, "labelOffset": 6, "columnPadding": 4, "rowPadding": 5, "offset": 22, "labelLimit": 300}}}}
  ],
  "resolve": {"scale": {"shape": "independent"}, "axis": {"x": "independent", "y": "independent"}}
 },
 {
  "data": {"name": "F"}, "width": 568, "height": 261,
  "title": {"text": "F", "anchor": "start", "frame": "group", "dx": -44, "dy": 28, "fontSize": 20, "font": "Open Sans", "fontWeight": "normal", "color": "#1a1a1a"},
  "layer": [
   {"transform": [{"filter": "datum.t > 0"}],
    "mark": {"type": "line", "color": "#a6a6a6", "strokeWidth": 2.5, "interpolate": "monotone"},
    "encoding": {
     "x": {"field": "t", "type": "quantitative", "scale": {"domain": [0, 6], "nice": false}, "axis": {"orient": "bottom", "values": [1,2,3,4,5,6], "labelExpr": "'0' + datum.value + ':00'", "title": "Sampling time [hh:mm]", "titlePadding": 12, "labelPadding": 9, "labelFlush": false, "grid": true}},
     "y": {"field": "v", "type": "quantitative", "scale": {"domain": [0, 180], "nice": false}, "axis": {"values": [0,20,40,60,80,100,120,140,160,180], "format": ".1f", "title": "Partial pressure [mmHg]", "titlePadding": 19, "labelPadding": 5, "grid": true}},
     "detail": {"field": "s", "type": "nominal"}}},
   {"mark": {"type": "rule", "color": "#595959", "strokeWidth": 1.2, "clip": true},
    "encoding": {"x": {"field": "t", "type": "quantitative", "scale": {"domain": [0, 6], "nice": false}, "axis": null}, "y": {"field": "lo", "type": "quantitative", "scale": {"domain": [0, 180], "nice": false}, "axis": null}, "y2": {"field": "hi"}}},
   {"mark": {"type": "tick", "orient": "horizontal", "color": "#595959", "size": 6, "thickness": 1.2, "clip": true},
    "encoding": {"x": {"field": "t", "type": "quantitative", "scale": {"domain": [0, 6], "nice": false}, "axis": null}, "y": {"field": "lo", "type": "quantitative", "scale": {"domain": [0, 180], "nice": false}, "axis": null}}},
   {"mark": {"type": "tick", "orient": "horizontal", "color": "#595959", "size": 6, "thickness": 1.2, "clip": true},
    "encoding": {"x": {"field": "t", "type": "quantitative", "scale": {"domain": [0, 6], "nice": false}, "axis": null}, "y": {"field": "hi", "type": "quantitative", "scale": {"domain": [0, 180], "nice": false}, "axis": null}}},
   {"mark": {"type": "point", "filled": true, "color": "#1a1a1a", "size": 121, "opacity": 1},
    "encoding": {"x": {"field": "t", "type": "quantitative", "scale": {"domain": [0, 6], "nice": false}, "axis": null}, "y": {"field": "v", "type": "quantitative", "scale": {"domain": [0, 180], "nice": false}, "axis": null},
     "shape": {"field": "s", "type": "nominal", "legend": null, "scale": {"domain": ["pCO2 before cell filter", "pCO2 behind cell filter", "pO2 before cell filter", "pO2 behind cell filter", "pCO2 pGC", "pO2 pGC"], "range": ["M0.92,0A0.92,0.92,0,1,1,-0.92,0A0.92,0.92,0,1,1,0.92,0Z", "M0,-1L0.82,0L0,1L-0.82,0Z", "M-0.65,-0.9L0.9,0.65L0.65,0.9L-0.9,-0.65ZM0.9,-0.65L-0.65,0.9L-0.9,0.65L0.65,-0.9Z", "M0,-0.95L0.92,0.75L-0.92,0.75Z", "M-1,-1L1,-1L1,1L-1,1Z", "M-0.65,-0.9L0.9,0.65L0.65,0.9L-0.9,-0.65ZM0.9,-0.65L-0.65,0.9L-0.9,0.65L0.65,-0.9ZM-0.12,-0.9L0.12,-0.9L0.12,0.9L-0.12,0.9Z"]}}}},
   {"mark": {"type": "point", "filled": true, "color": "#1a1a1a", "clip": true},
    "encoding": {"x": {"field": "t", "type": "quantitative", "scale": {"domain": [0, 6], "nice": false}, "axis": {"orient": "top", "title": "72 h", "titleFont": "Liberation Sans Narrow, Liberation Sans, sans-serif", "titleFontSize": 29, "titleColor": "#1a1a1a", "titlePadding": 14, "titleX": 266, "labels": false, "ticks": false, "domain": false, "grid": false}},
     "y": {"datum": -1000, "type": "quantitative", "scale": {"domain": [0, 180], "nice": false}, "axis": null},
     "shape": {"field": "s", "type": "nominal", "scale": {"domain": ["pCO2 before cell filter", "pCO2 behind cell filter", "pO2 before cell filter", "pO2 behind cell filter", "pCO2 pGC", "pO2 pGC"], "range": ["M-1.25,-0.04L-0.38,-0.04L-0.38,0.04L-1.25,0.04ZM0.38,-0.04L1.25,-0.04L1.25,0.04L0.38,0.04ZM0.33,0A0.33,0.33,0,1,1,-0.33,0A0.33,0.33,0,1,1,0.33,0Z", "M-1.25,-0.04L-0.38,-0.04L-0.38,0.04L-1.25,0.04ZM0.38,-0.04L1.25,-0.04L1.25,0.04L0.38,0.04ZM0,-0.37L0.3,0L0,0.37L-0.3,0Z", "M-1.25,-0.04L-0.38,-0.04L-0.38,0.04L-1.25,0.04ZM0.38,-0.04L1.25,-0.04L1.25,0.04L0.38,0.04ZM-0.23,-0.32L0.32,0.23L0.23,0.32L-0.32,-0.23ZM0.32,-0.23L-0.23,0.32L-0.32,0.23L0.23,-0.32Z", "M-1.25,-0.04L-0.38,-0.04L-0.38,0.04L-1.25,0.04ZM0.38,-0.04L1.25,-0.04L1.25,0.04L0.38,0.04ZM0,-0.35L0.34,0.26L-0.34,0.26Z", "M-1.25,-0.04L-0.38,-0.04L-0.38,0.04L-1.25,0.04ZM0.38,-0.04L1.25,-0.04L1.25,0.04L0.38,0.04ZM-0.3,-0.3L0.3,-0.3L0.3,0.3L-0.3,0.3Z", "M-1.25,-0.04L-0.38,-0.04L-0.38,0.04L-1.25,0.04ZM0.38,-0.04L1.25,-0.04L1.25,0.04L0.38,0.04ZM-0.23,-0.32L0.32,0.23L0.23,0.32L-0.32,-0.23ZM0.32,-0.23L-0.23,0.32L-0.32,0.23L0.23,-0.32ZM-0.05,-0.33L0.05,-0.33L0.05,0.33L-0.05,0.33Z"]},
      "legend": {"orient": "bottom", "direction": "horizontal", "columns": 3, "title": null, "labelFont": "Liberation Sans", "labelFontSize": 15, "labelColor": "#404040", "symbolSize": 900, "symbolOpacity": 1, "labelOffset": 6, "columnPadding": 4, "rowPadding": 5, "offset": 22, "labelLimit": 300}}}}
  ],
  "resolve": {"scale": {"shape": "independent"}, "axis": {"x": "independent", "y": "independent"}}
 }
]
}
